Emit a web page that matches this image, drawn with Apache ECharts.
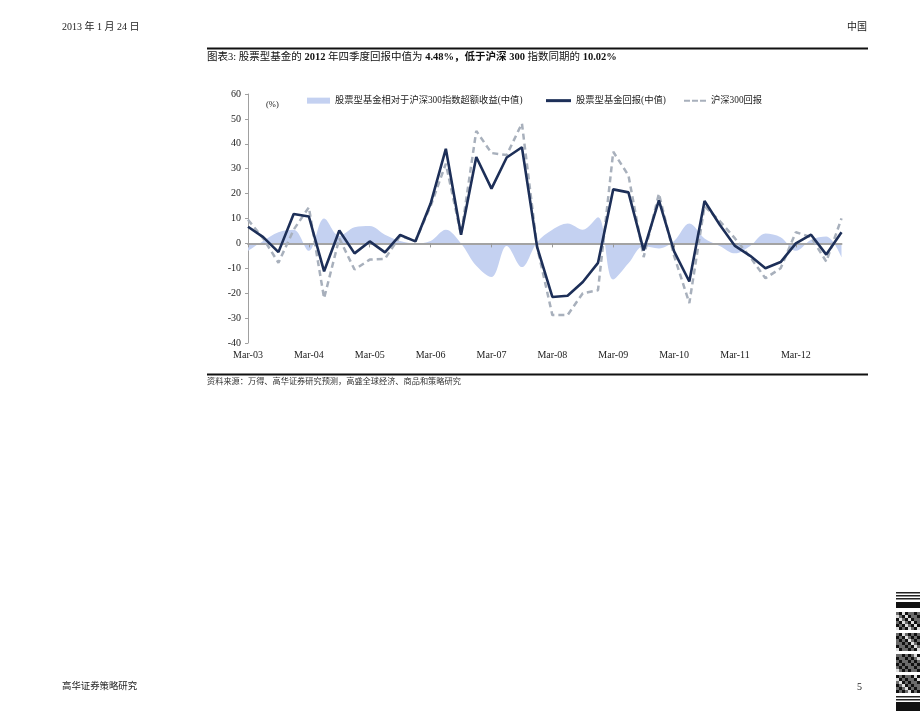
<!DOCTYPE html>
<html>
<head>
<meta charset="utf-8">
<script src="https://cdn.jsdelivr.net/npm/echarts@6/dist/echarts.min.js"></script>
<style>
html,body{margin:0;padding:0;background:#fff;}
#c{width:920px;height:711px;}
</style>
</head>
<body>
<div id="c"></div>
<script>
// ---- data ----
const categories = [
  'Mar-03','Jun-03','Sep-03','Dec-03','Mar-04','Jun-04','Sep-04','Dec-04',
  'Mar-05','Jun-05','Sep-05','Dec-05','Mar-06','Jun-06','Sep-06','Dec-06',
  'Mar-07','Jun-07','Sep-07','Dec-07','Mar-08','Jun-08','Sep-08','Dec-08',
  'Mar-09','Jun-09','Sep-09','Dec-09','Mar-10','Jun-10','Sep-10','Dec-10',
  'Mar-11','Jun-11','Sep-11','Dec-11','Mar-12','Jun-12','Sep-12','Dec-12'
];
const excessReturn = [
  -3, 1, 4.5, 5.5, -3, 10, 3, 6.5, 7, 3.5, 1, 0, 1, 5.5, 0, -9,
  -13.5, -1, -9.5, 0.5, 5.5, 8, 5.5, 10.5, -14.5, -8, -1, -2, 1, 8, 2, -1,
  -4, -1, 4, 2.5, -3, 1.5, 2.8, -5.54
];
const fundReturn = [
  6.7, 2.5, -3.5, 11.8, 10.8, -11.2, 5.2, -4.0, 0.8, -3.6, 3.4, 0.8, 16, 38, 3.5, 34.7,
  22, 34.5, 38.6, -1.5, -21.5, -21, -15.5, -7.8, 21.7, 20.5, -2.8, 17.3, -3.2, -15.3, 17, 7.5,
  -1, -5, -10, -7.5, 0, 3.5, -4.5, 4.48
];
const csi300Return = [
  9.5, 2, -7.8, 5.5, 14.5, -22, 2, -10.5, -6.5, -6.2, 3, 1, 15, 32, 3.5, 45.2,
  36.3, 35.5, 48.2, -1.5, -28.8, -28.8, -20, -18.8, 36.8, 27.3, -5.5, 20, -5, -24, 15, 9,
  2, -5.5, -14, -10, 4.5, 2.5, -7.3, 10.02
];
const seriesNames = ['股票型基金相对于沪深300指数超额收益(中值)', '股票型基金回报(中值)', '沪深300回报'];
const yTicks = {min: -40, max: 60, interval: 10};

const SERIF = '"Liberation Serif","Times New Roman","Noto Sans CJK SC",serif';
const chart = echarts.init(document.getElementById('c'), null, {renderer: 'canvas'});

const legendText = {fontSize: 9.3, color: '#222', fontFamily: SERIF};
const AREA_C = '#c4d1f1', FUND_C = '#1d2f58', CSI_C = '#a8b0bc';

// barcode-like decoration at the right edge
const barcode = [];
[[592,1.5],[595,1.5],[598,1.5]].forEach(([y,h]) => barcode.push({type:'rect', shape:{x:896,y:y,width:24,height:h}, style:{fill:'#222'}}));
barcode.push({type:'rect', shape:{x:896,y:602,width:24,height:6}, style:{fill:'#111'}});
[612,633,654,675].forEach(y => {
  barcode.push({type:'rect', shape:{x:896,y:y,width:24,height:18}, style:{fill:'#6a6a6a'}});
  for (let r = 0; r < 6; r++) for (let c = 0; c < 8; c++) {
    if ((r * 7 + c * 3 + y) % 5 < 2) barcode.push({type:'rect', shape:{x:896 + c*3, y:y + r*3, width:3, height:3}, style:{fill:'#111'}});
    else if ((r * 5 + c * 2 + y) % 7 < 2) barcode.push({type:'rect', shape:{x:896 + c*3, y:y + r*3, width:3, height:3}, style:{fill:'#ddd'}});
  }
});
[[696,1.5],[699,1.5]].forEach(([y,h]) => barcode.push({type:'rect', shape:{x:896,y:y,width:24,height:h}, style:{fill:'#222'}}));
barcode.push({type:'rect', shape:{x:896,y:702,width:24,height:9}, style:{fill:'#111'}});

const option = {
  backgroundColor: '#fff',
  animation: false,
  title: {
    left: 207, top: 52.5, padding: 0,
    text: '{n|图表3: 股票型基金的 }{b|2012}{n| 年四季度回报中值为 }{b|4.48%，低于沪深 300}{n| 指数同期的 }{b|10.02%}',
    textStyle: {
      fontWeight: 'normal',
      rich: {
        n: {fontSize: 10.5, color: '#111', fontWeight: 'normal', fontFamily: SERIF},
        b: {fontSize: 10.5, color: '#111', fontWeight: 'bold', fontFamily: SERIF}
      }
    }
  },
  legend: [
    {left: 307, top: 96, padding: 0, itemWidth: 23, itemHeight: 6, textStyle: legendText,
     data: [{name: seriesNames[0], icon: 'rect', itemStyle: {color: AREA_C}}]},
    {left: 546, top: 96, padding: 0, itemWidth: 25, itemHeight: 3, textStyle: legendText,
     data: [{name: seriesNames[1], icon: 'rect', itemStyle: {color: FUND_C}}]},
    {left: 684, top: 96, padding: 0, itemWidth: 22, itemHeight: 2.5, textStyle: legendText,
     data: [{name: seriesNames[2], icon: 'path://M0,0h6v2h-6z M8,0h6v2h-6z M16,0h6v2h-6z', itemStyle: {color: CSI_C}}]}
  ],
  grid: {left: 248, top: 94, width: 593.5, height: 249, containLabel: false},
  xAxis: [
    {
      type: 'category', data: categories, boundaryGap: false, position: 'bottom',
      axisLine: {show: false, onZero: false}, axisTick: {show: false},
      axisLabel: {interval: 3, margin: 7, fontSize: 10, color: '#222', fontFamily: SERIF},
      splitLine: {show: false}
    },
    {
      type: 'category', data: categories, boundaryGap: false, position: 'bottom', z: 2,
      axisLine: {show: true, onZero: true, onZeroAxisIndex: 0, lineStyle: {color: '#a3a3a3', width: 2}},
      axisTick: {show: true, interval: 3, length: 4, lineStyle: {color: '#999', width: 1}},
      axisLabel: {show: false}, splitLine: {show: false}
    }
  ],
  yAxis: {
    type: 'value', min: yTicks.min, max: yTicks.max, interval: yTicks.interval,
    axisLine: {show: true, lineStyle: {color: '#a0a0a0', width: 1}},
    axisTick: {show: true, length: 3, lineStyle: {color: '#a0a0a0'}},
    axisLabel: {margin: 7, fontSize: 10, color: '#222', fontFamily: SERIF},
    splitLine: {show: false}
  },
  series: [
    {
      name: seriesNames[0], type: 'line', data: excessReturn, z: 1,
      smooth: 0.35, symbol: 'none', showSymbol: false, silent: true,
      lineStyle: {width: 0, color: AREA_C},
      itemStyle: {color: AREA_C},
      areaStyle: {color: AREA_C, opacity: 1, origin: 0}
    },
    {
      name: seriesNames[2], type: 'line', data: csi300Return, z: 3,
      symbol: 'none', showSymbol: false, silent: true,
      lineStyle: {width: 2.5, color: CSI_C, type: [6, 4]},
      itemStyle: {color: CSI_C}
    },
    {
      name: seriesNames[1], type: 'line', data: fundReturn, z: 4,
      symbol: 'none', showSymbol: false, silent: true,
      lineStyle: {width: 2.6, color: FUND_C},
      itemStyle: {color: FUND_C}
    }
  ],
  graphic: [
    {type: 'text', left: 62, top: 22, style: {text: '2013 年 1 月 24 日', fontSize: 10, fill: '#222', fontFamily: SERIF}},
    {type: 'text', right: 53, top: 22, style: {text: '中国', fontSize: 10, fill: '#222', fontFamily: SERIF}},
    {type: 'rect', shape: {x: 207, y: 47.5, width: 661, height: 2}, style: {fill: '#111'}},
    {type: 'text', left: 266, top: 101, style: {text: '(%)', fontSize: 8.5, fill: '#222', fontFamily: SERIF}},
    {type: 'rect', shape: {x: 207, y: 373.5, width: 661, height: 2}, style: {fill: '#111'}},
    {type: 'text', left: 207, top: 378, style: {text: '资料来源：万得、高华证券研究预测，高盛全球经济、商品和策略研究', fontSize: 8.2, fill: '#333', fontFamily: SERIF}},
    {type: 'text', left: 62, top: 682, style: {text: '高华证券策略研究', fontSize: 9.4, fill: '#222', fontFamily: SERIF}},
    {type: 'text', left: 857, top: 682, style: {text: '5', fontSize: 10, fill: '#222', fontFamily: SERIF}}
  ].concat(barcode)
};
chart.setOption(option);
</script>
</body>
</html>
